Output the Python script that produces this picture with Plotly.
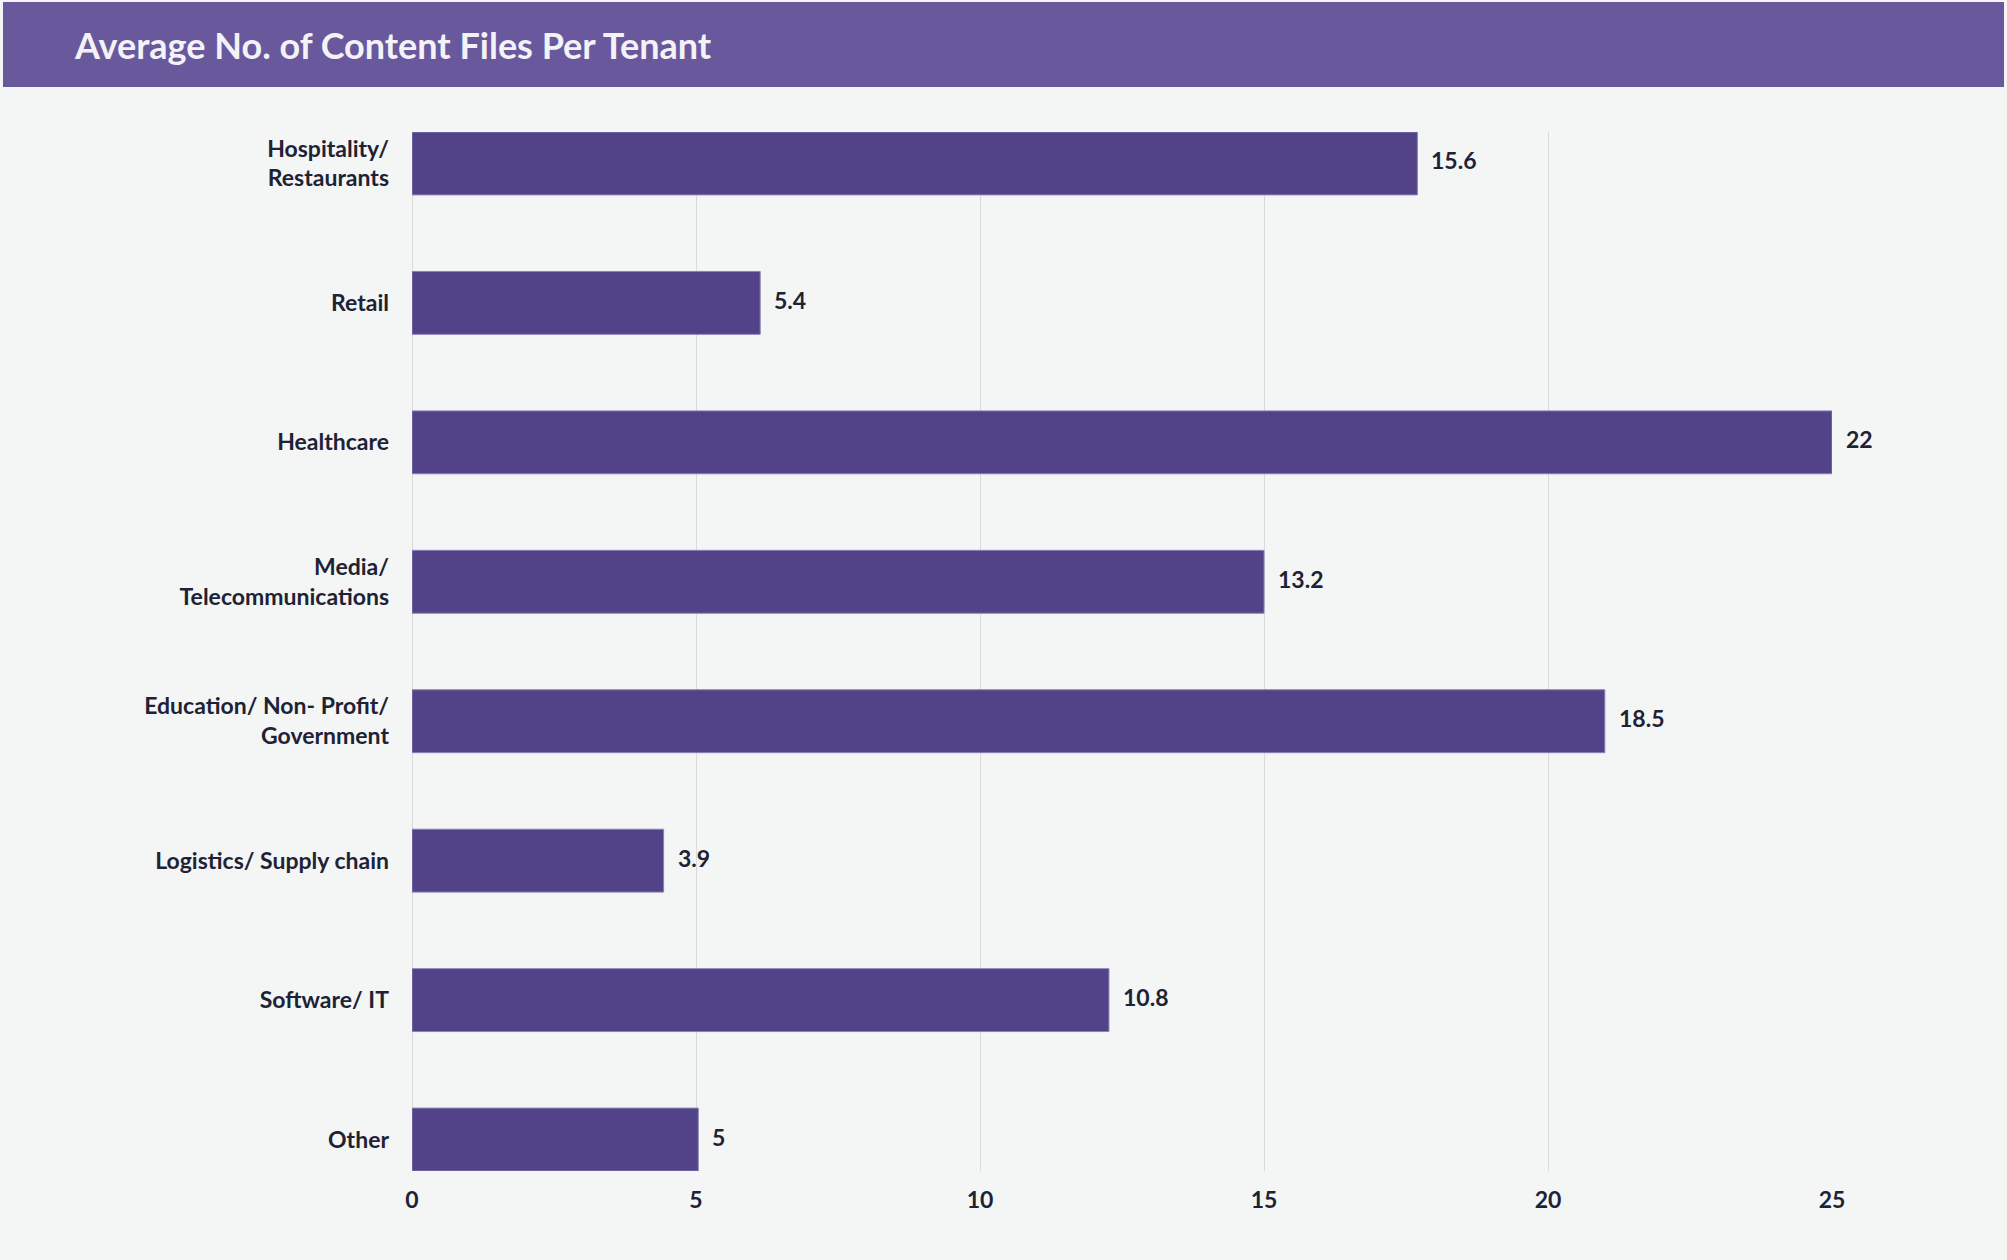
import plotly.graph_objects as go

# ---- data ----
categories = [
    "Hospitality/<br>Restaurants",
    "Retail",
    "Healthcare",
    "Media/<br>Telecommunications",
    "Education/ Non- Profit/<br>Government",
    "Logistics/ Supply chain",
    "Software/ IT",
    "Other",
]
bar_values = [17.7, 6.13, 25.0, 15.0, 21.0, 4.43, 12.27, 5.04]
value_labels = ["15.6", "5.4", "22", "13.2", "18.5", "3.9", "10.8", "5"]
x_ticks = [0, 5, 10, 15, 20, 25]
title_text = "Average No. of Content Files Per Tenant"

# ---- layout constants ----
W, H = 2007, 1260
ML, MR, MT, MB = 412, 175, 132, 89
PW, PH = W - ML - MR, H - MT - MB

def px_x(p):
    return (p - ML) / PW

def px_y(p):
    return 1 + (MT - p) / PH

FONT = "Lato"
DARK = "#1e2235"

fig = go.Figure()
fig.add_trace(go.Bar(
    x=bar_values, y=categories, orientation="h",
    width=0.451,
    marker=dict(color="#524287", line=dict(color="#8c80b8", width=1)),
    hoverinfo="skip",
))

for v, c, t in zip(bar_values, categories, value_labels):
    fig.add_annotation(
        x=v, y=c, text=t, showarrow=False, xanchor="left", yanchor="middle",
        xshift=12, yshift=3, font=dict(family=FONT, size=23, color=DARK, weight="bold"),
    )

# banner
fig.add_shape(type="rect", xref="paper", yref="paper",
              x0=px_x(3), x1=px_x(2004), y0=px_y(87), y1=px_y(2),
              fillcolor="#6a589c", line=dict(width=0), layer="below")
fig.add_annotation(
    xref="paper", yref="paper", x=px_x(72), y=px_y(45),
    xanchor="left", yanchor="middle", showarrow=False,
    text=title_text, font=dict(family=FONT, size=36, color="#f3f2f7", weight="bold"),
)

fig.update_layout(
    width=W, height=H,
    margin=dict(l=ML, r=MR, t=MT, b=MB),
    paper_bgcolor="#f4f6f5", plot_bgcolor="#f4f6f5",
    showlegend=False,
    xaxis=dict(
        range=[0, 25], tickvals=x_ticks, showgrid=True, gridcolor="#dadada",
        gridwidth=1, zeroline=True, zerolinecolor="#dadada", zerolinewidth=1,
        showline=False, ticks="", ticklabelstandoff=13,
        tickfont=dict(family=FONT, size=23, color=DARK, weight="bold"),
        fixedrange=True,
    ),
    yaxis=dict(
        type="category", categoryorder="array", categoryarray=categories,
        range=[7.2255, -0.2255], showgrid=False, zeroline=False, showline=False,
        ticks="", ticklabelstandoff=22,
        tickfont=dict(family=FONT, size=23, color=DARK, weight="bold"),
        fixedrange=True,
    ),
)

fig.write_html("out.html")
